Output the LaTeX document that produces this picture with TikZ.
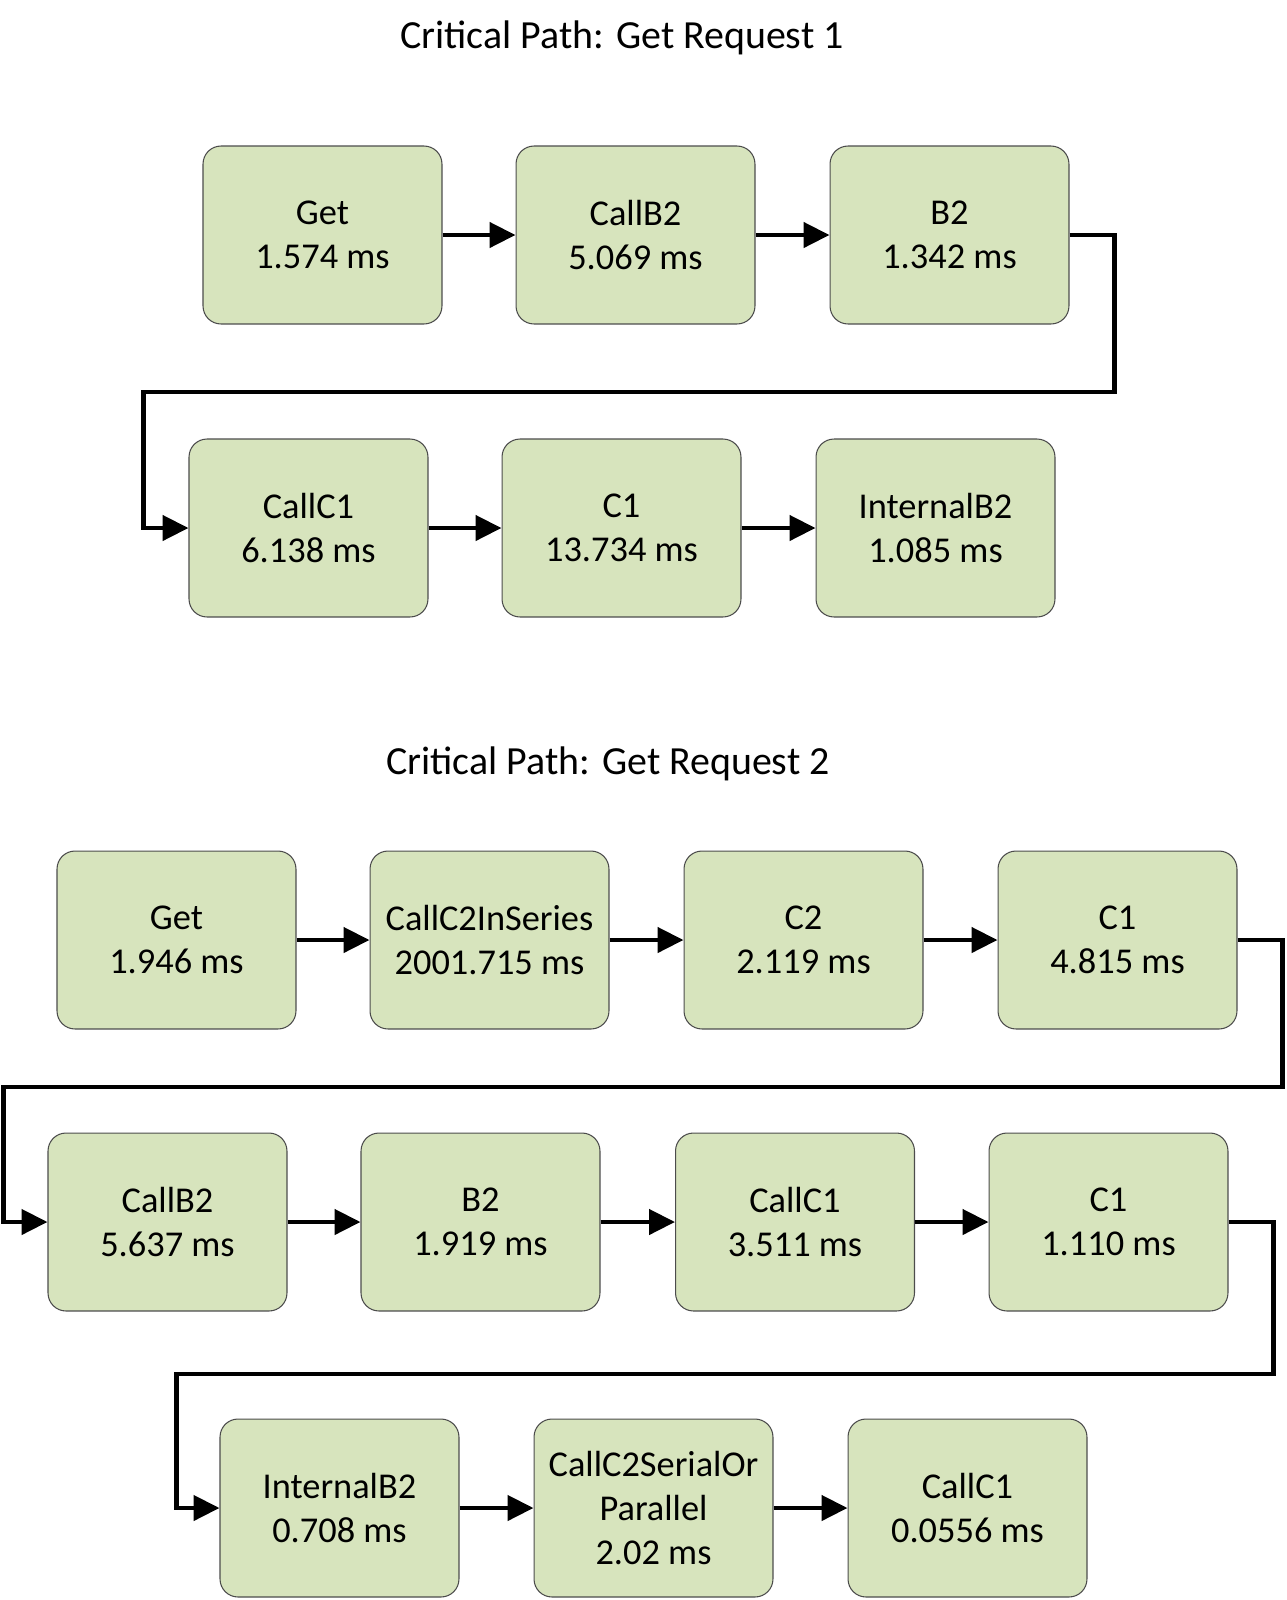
\documentclass[tikz,border=0pt]{standalone}
\usepackage{fontspec}
\setmainfont{Carlito}
\usetikzlibrary{arrows.meta}
\definecolor{pathgreen}{HTML}{D7E4BD}
\newcommand{\bigtxt}{\fontsize{20.7}{25}\selectfont}
\newcommand{\headtxt}{\fontsize{22.7}{27}\selectfont}
\begin{document}
\begin{tikzpicture}[x=0.02cm,y=-0.02cm,
   box/.style={draw=black!70,line width=0.6pt,fill=pathgreen,rounded corners=0.36cm,
      minimum width=4.78cm,minimum height=3.56cm,inner sep=0pt,align=center,font=\bigtxt},
   title/.style={font=\headtxt},
   arr/.style={line width=2.6pt,-{Triangle[length=0.52cm,width=0.5cm]}}]
   \useasboundingbox (0,0) rectangle (1286,1600);
   \node[title] (titleA) at (622,38) {Critical Path: Get Request 1};
   \node[box] (getA)     at (322.5,235) {Get\\1.574 ms};
   \node[box] (callbA)   at (635.5,235) {CallB2\\5.069 ms};
   \node[box] (bA)       at (949.5,235) {B2\\1.342 ms};
   \node[box] (callcA)   at (308.5,528) {CallC1\\6.138 ms};
   \node[box] (cA)       at (621.5,528) {C1\\13.734 ms};
   \node[box] (internA)  at (935.5,528) {InternalB2\\1.085 ms};
   \draw[arr] (getA) -- (callbA);
   \draw[arr] (callbA) -- (bA);
   \draw[arr] (bA.east) -- ++(45,0) -- ++(0,157) -| ([xshift=-0.9cm]callcA.west) -- (callcA.west);
   \draw[arr] (callcA) -- (cA);
   \draw[arr] (cA) -- (internA);
   \node[title] (titleB) at (608,764) {Critical Path: Get Request 2};
   \node[box] (getB)     at (176.5,940) {Get\\1.946 ms};
   \node[box] (seriesB)  at (489.5,940) {CallC2InSeries\\2001.715 ms};
   \node[box] (ctwoB)    at (803.5,940) {C2\\2.119 ms};
   \node[box] (cB)       at (1117.5,940) {C1\\4.815 ms};
   \node[box] (callbB)   at (167.5,1222) {CallB2\\5.637 ms};
   \node[box] (bB)       at (480.5,1222) {B2\\1.919 ms};
   \node[box] (callcB)   at (795,1222) {CallC1\\3.511 ms};
   \node[box] (cC)       at (1108.5,1222) {C1\\1.110 ms};
   \node[box] (internB)  at (339.5,1508) {InternalB2\\0.708 ms};
   \node[box] (serialB)  at (653.5,1508) {CallC2SerialOr\\Parallel\\2.02 ms};
   \node[box] (callcC)   at (967.5,1508) {CallC1\\0.0556 ms};
   \draw[arr] (getB) -- (seriesB);
   \draw[arr] (seriesB) -- (ctwoB);
   \draw[arr] (ctwoB) -- (cB);
   \draw[arr] (cB.east) -- ++(45,0) -- ++(0,147) -| ([xshift=-0.88cm]callbB.west) -- (callbB.west);
   \draw[arr] (callbB) -- (bB);
   \draw[arr] (bB) -- (callcB);
   \draw[arr] (callcB) -- (cC);
   \draw[arr] (cC.east) -- ++(45,0) -- ++(0,152) -| ([xshift=-0.86cm]internB.west) -- (internB.west);
   \draw[arr] (internB) -- (serialB);
   \draw[arr] (serialB) -- (callcC);
\end{tikzpicture}
\end{document}
